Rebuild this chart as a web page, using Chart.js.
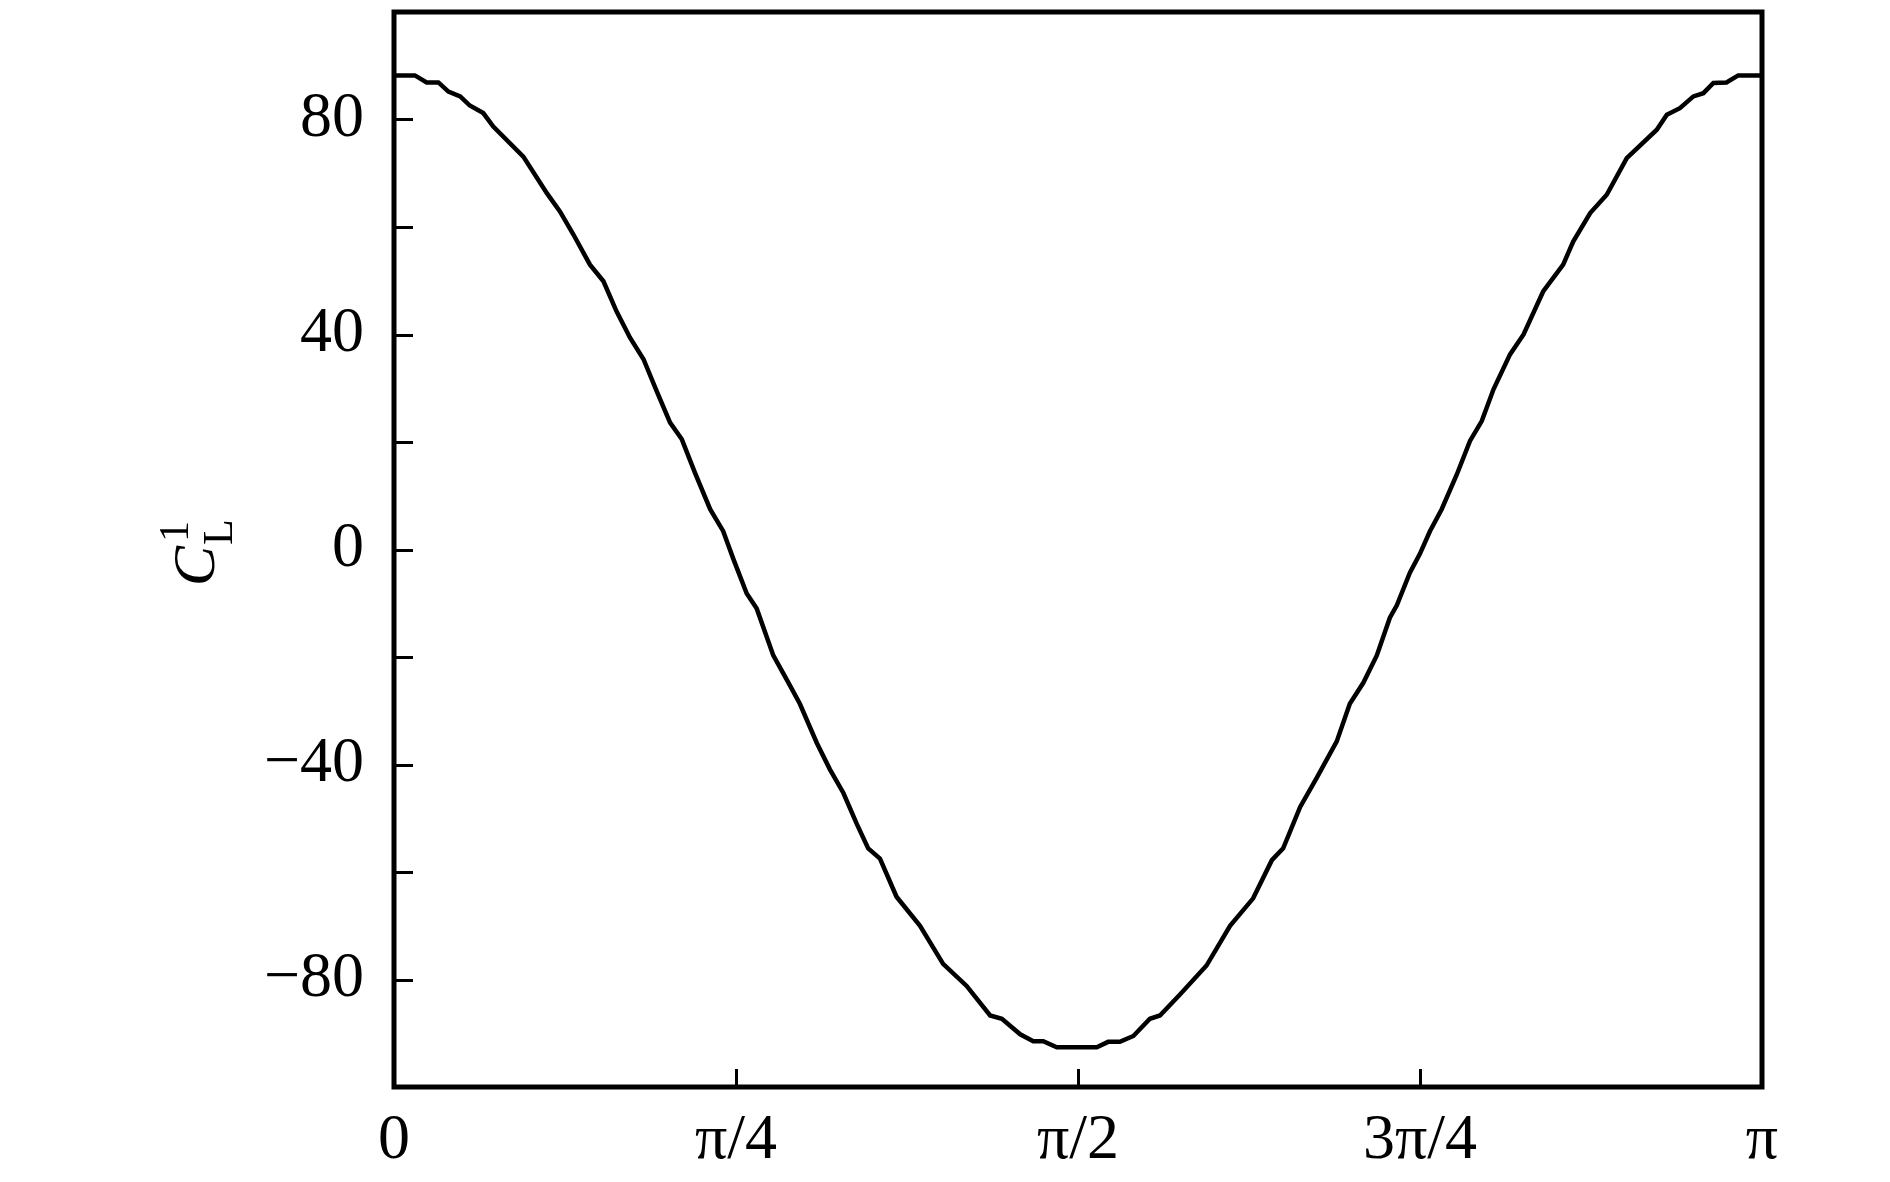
<!DOCTYPE html>
<html>
<head>
<meta charset="utf-8">
<script src="https://cdn.jsdelivr.net/npm/chart.js@4.4.1/dist/chart.umd.min.js"></script>
<style>
  html, body { margin: 0; padding: 0; background: #ffffff; }
  #wrap { width: 1890px; height: 1182px; }
</style>
</head>
<body>
<div id="wrap"><canvas id="c" width="1890" height="1182"></canvas></div>
<script>
// ---- data (angle in radians, C_L^1 value) ----
const angles = [
  0.000, 0.048, 0.075, 0.102, 0.125, 0.152, 0.174, 0.205, 0.228, 0.297,
  0.351, 0.381, 0.412, 0.450, 0.481, 0.511, 0.542, 0.573, 0.603, 0.634,
  0.661, 0.691, 0.726, 0.756, 0.779, 0.810, 0.833, 0.871, 0.906, 0.932,
  0.971, 1.001, 1.032, 1.063, 1.089, 1.116, 1.154, 1.208, 1.261, 1.315,
  1.369, 1.396, 1.438, 1.468, 1.491, 1.522, 1.614, 1.640, 1.667, 1.698,
  1.736, 1.759, 1.805, 1.866, 1.920, 1.973, 2.016, 2.042, 2.081, 2.119,
  2.165, 2.195, 2.226, 2.257, 2.287, 2.303, 2.333, 2.356, 2.379, 2.406,
  2.441, 2.471, 2.498, 2.525, 2.563, 2.594, 2.639, 2.685, 2.708, 2.747,
  2.785, 2.831, 2.900, 2.923, 2.953, 2.984, 3.007, 3.030, 3.060, 3.087,
  3.1416
];
const clValues = [
  88.2, 88.2, 86.9, 86.9, 85.2, 84.3, 82.6, 81.2, 78.7, 73.1,
  66.3, 62.9, 58.6, 53.0, 49.9, 44.3, 39.4, 35.4, 29.5, 23.6,
  20.5, 14.3, 7.5, 3.4, -1.7, -8.2, -11.0, -19.7, -24.8, -28.7,
  -36.0, -40.9, -45.3, -51.1, -55.6, -57.5, -64.6, -70.0, -77.1, -81.2,
  -86.7, -87.3, -90.2, -91.5, -91.5, -92.6, -92.6, -91.6, -91.6, -90.5,
  -87.3, -86.7, -82.8, -77.4, -70.0, -64.9, -57.8, -55.6, -47.9, -42.5,
  -35.7, -28.7, -24.8, -19.7, -12.7, -10.4, -4.3, -0.8, 3.4, 7.5,
  14.0, 20.2, 23.9, 29.8, 36.3, 40.0, 48.0, 53.0, 57.3, 62.6,
  66.0, 72.8, 78.1, 80.9, 82.1, 84.3, 84.9, 86.8, 86.9, 88.2,
  88.2
];
const xTickValues = [0, Math.PI / 4, Math.PI / 2, 3 * Math.PI / 4, Math.PI];
const xTickLabels = ['0', 'π/4', 'π/2', '3π/4', 'π'];
const yTickValues = [-80, -60, -40, -20, 0, 20, 40, 60, 80];
const yLabelledTicks = [-80, -40, 0, 40, 80];

const FONT = '"Liberation Serif", "Times New Roman", serif';

const frameAndTicks = {
  id: 'frameAndTicks',
  afterDatasetsDraw(chart) {
    const ctx = chart.ctx;
    const a = chart.chartArea;
    const xs = chart.scales.x, ys = chart.scales.y;
    ctx.save();
    ctx.strokeStyle = '#000';
    // inward tick marks
    ctx.lineWidth = 3;
    ctx.beginPath();
    yTickValues.forEach(v => {
      const py = Math.round(ys.getPixelForValue(v)) + 0.5;
      ctx.moveTo(a.left, py);
      ctx.lineTo(a.left + 19, py);
    });
    xTickValues.forEach(v => {
      const px = Math.round(xs.getPixelForValue(v)) + 0.5;
      ctx.moveTo(px, a.bottom);
      ctx.lineTo(px, a.bottom - 18);
    });
    ctx.stroke();
    // frame
    ctx.lineWidth = 5;
    ctx.strokeRect(a.left, a.top, a.right - a.left, a.bottom - a.top);
    ctx.restore();
  },
  afterDraw(chart) {
    // y-axis title  C^1_L  (rotated)
    const ctx = chart.ctx;
    ctx.save();
    ctx.fillStyle = '#000';
    ctx.translate(214, 586);
    ctx.rotate(-Math.PI / 2);
    ctx.textBaseline = 'alphabetic';
    ctx.textAlign = 'left';
    ctx.font = 'italic 60px ' + FONT;
    ctx.fillText('C', 0, 0);
    const w = ctx.measureText('C').width;
    ctx.font = '42px ' + FONT;
    ctx.fillText('1', w + 4, -26);
    ctx.fillText('L', w + 1, 18);
    ctx.restore();
  }
};

const points = angles.map((a, i) => ({ x: a, y: clValues[i] }));

new Chart(document.getElementById('c'), {
  type: 'line',
  data: {
    datasets: [{
      data: points,
      borderColor: '#000',
      borderWidth: 4.5,
      pointRadius: 0,
      tension: 0,
      fill: false,
      clip: false
    }]
  },
  options: {
    responsive: false,
    animation: false,
    devicePixelRatio: 1,
    layout: { padding: { left: 0, right: 128, top: 12, bottom: 0 } },
    plugins: { legend: { display: false }, tooltip: { enabled: false } },
    scales: {
      x: {
        type: 'linear',
        min: 0,
        max: Math.PI,
        afterBuildTicks(scale) { scale.ticks = xTickValues.map(v => ({ value: v })); },
        afterFit(scale) { scale.height = 95; scale.paddingLeft = 0; scale.paddingRight = 0; },
        grid: { display: false, drawTicks: false },
        border: { display: false },
        ticks: {
          autoSkip: false,
          maxRotation: 0,
          padding: 16,
          color: '#000',
          font: { family: FONT, size: 64 },
          callback(value) {
            const i = xTickValues.findIndex(t => Math.abs(t - value) < 1e-9);
            return i >= 0 ? xTickLabels[i] : '';
          }
        }
      },
      y: {
        type: 'linear',
        min: -100,
        max: 100,
        afterFit(scale) { scale.width = 394; scale.paddingTop = 0; scale.paddingBottom = 0; },
        grid: { display: false, drawTicks: false },
        border: { display: false },
        ticks: {
          stepSize: 20,
          autoSkip: false,
          padding: 30,
          color: '#000',
          font: { family: FONT, size: 64 },
          callback(value) {
            if (!yLabelledTicks.includes(value)) return '';
            return value < 0 ? '\u2212' + Math.abs(value) : String(value);
          }
        }
      }
    }
  },
  plugins: [frameAndTicks]
});
</script>
</body>
</html>
